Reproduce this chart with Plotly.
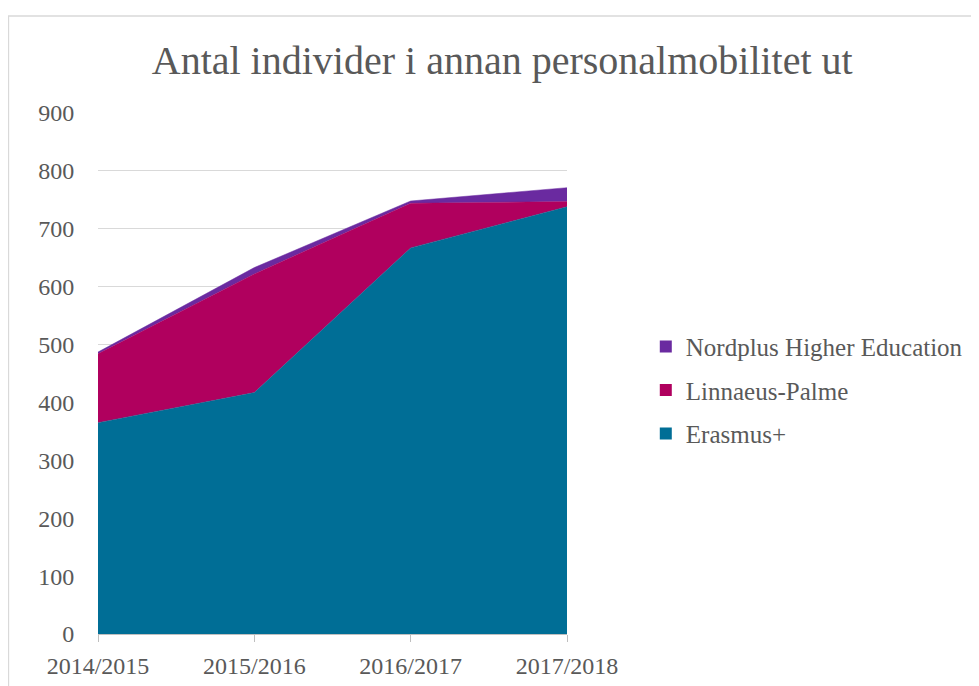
import plotly.graph_objects as go

years = ["2014/2015", "2015/2016", "2016/2017", "2017/2018"]
erasmus = [365, 417, 667, 738]
linnaeus = [119, 205, 77, 9]
nordplus = [3, 11, 4, 24]

series = [
    ("Erasmus+", erasmus, "#006E96"),
    ("Linnaeus-Palme", linnaeus, "#B0005E"),
    ("Nordplus Higher Education", nordplus, "#6A2AA0"),
]

font = "Liberation Serif"
fig = go.Figure()
for name, vals, col in series:
    fig.add_trace(go.Scatter(
        x=years, y=vals, name=name, stackgroup="one", mode="lines",
        line=dict(color=col, width=0.5), fillcolor=col, showlegend=False,
    ))
for name, vals, col in reversed(series):
    fig.add_trace(go.Scatter(
        x=[None], y=[None], name=name, mode="markers",
        marker=dict(symbol="square", size=12, color=col), legendgroup=name,
    ))

fig.update_layout(
    width=971, height=678,
    margin=dict(l=90, r=412, t=105, b=52, autoexpand=False),
    paper_bgcolor="white", plot_bgcolor="white",
    font=dict(family=font, size=24, color="#595959"),
    title=dict(text="Antal individer i annan personalmobilitet ut", x=0.509, xanchor="center",
               y=0.923, yanchor="middle", font=dict(size=40, color="#595959", family=font)),
    legend=dict(x=1.168, y=0.468, xanchor="left", yanchor="middle", traceorder="grouped",
                tracegroupgap=8, font=dict(size=25, color="#595959", family=font)),
    showlegend=True,
)
fig.update_xaxes(type="category", range=[0, 3], showgrid=False, showline=True, linecolor="#BFBFBF",
                 linewidth=1, ticks="outside", ticklen=7, tickcolor="#BFBFBF", zeroline=False,
                 ticklabelstandoff=3, automargin=False)
fig.update_yaxes(range=[0, 900], dtick=100, showgrid=True, gridcolor="#D9D9D9", gridwidth=1,
                 showline=False, zeroline=False, ticks="outside", ticklen=18, tickcolor="rgba(0,0,0,0)",
                 automargin=False)
fig.add_shape(type="rect", xref="paper", yref="paper", x0=-0.191, x1=2.2, y0=-0.13, y1=1.186,
              line=dict(color="#D9D9D9", width=1.5), fillcolor="rgba(0,0,0,0)", layer="below")
fig.write_html("out.html")
